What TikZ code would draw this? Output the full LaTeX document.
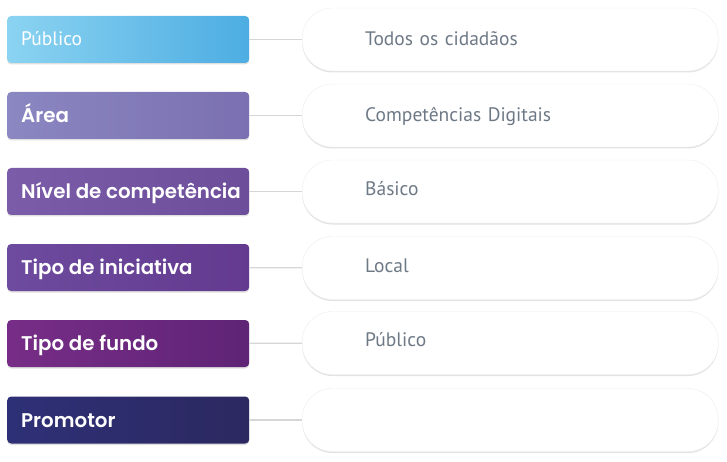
\documentclass[tikz,border=0pt]{standalone}
\usepackage{fontspec}
\newfontfamily\keyfont{Poppins}[BoldFont={Poppins SemiBold}]
\newfontfamily\valfont{PT Sans}
\usetikzlibrary{shadows}
\newcommand\keylabel[1]{\makebox[214pt][l]{#1}}
\definecolor{valgray}{HTML}{6E7986}
\definecolor{linkgray}{HTML}{D6D6D6}
\definecolor{pubL}{HTML}{8BD3F1}\definecolor{pubR}{HTML}{4DADE2}
\definecolor{areaL}{HTML}{8A87C1}\definecolor{areaR}{HTML}{7B70B1}
\definecolor{nivL}{HTML}{7A5CA8}\definecolor{nivR}{HTML}{6C4E9B}
\definecolor{iniL}{HTML}{6D4B9E}\definecolor{iniR}{HTML}{633A8F}
\definecolor{funL}{HTML}{772D87}\definecolor{funR}{HTML}{5F2476}
\definecolor{proL}{HTML}{2E3077}\definecolor{proR}{HTML}{2C2860}
\tikzset{
  keybox/.style={rectangle, rounded corners=4pt, anchor=west,
    minimum width=242pt, minimum height=47pt, inner xsep=14pt,
    text height=14.5pt, text depth=0pt,
    text=white, font=\keyfont\bfseries\fontsize{19.8}{22}\selectfont,
    drop shadow={opacity=.25, shadow xshift=0pt, shadow yshift=-1.5pt}},
  valbox/.style={rectangle, rounded corners=30pt, anchor=west,
    minimum width=416pt, minimum height=63pt, inner xsep=63pt,
    text width=290pt, align=left, text height=12pt, text depth=0pt,
    fill=white, draw=black!7, text=valgray,
    font=\valfont\fontsize{19.5}{22}\selectfont,
    drop shadow={opacity=.22, shadow xshift=0pt, shadow yshift=-1.5pt}},
  link/.style={draw=linkgray, line width=1.2pt}
}
\begin{document}
\begin{tikzpicture}[x=1pt, y=-1pt]
\useasboundingbox (0,0) rectangle (727,462);

\node[keybox, left color=pubL, right color=pubR, font=\valfont\fontsize{19.5}{22}\selectfont, text height=12pt] (k1) at (7,39.5) {\keylabel{Público}};
\node[keybox, left color=areaL, right color=areaR] (k2) at (7,115.5) {\keylabel{Área}};
\node[keybox, left color=nivL, right color=nivR] (k3) at (7,191.5) {\keylabel{Nível de competência}};
\node[keybox, left color=iniL, right color=iniR] (k4) at (7,267.5) {\keylabel{Tipo de iniciativa}};
\node[keybox, left color=funL, right color=funR] (k5) at (7,343.5) {\keylabel{Tipo de fundo}};
\node[keybox, left color=proL, right color=proR] (k6) at (7,420) {\keylabel{Promotor}};

\node[valbox] (v1) at (302,39.5) {Todos os cidadãos};
\node[valbox] (v2) at (302,115.5) {Competências Digitais};
\node[valbox, text depth=4pt] (v3) at (302,191.5) {Básico};
\node[valbox, text depth=4pt] (v4) at (302,268) {Local};
\node[valbox, text depth=6pt] (v5) at (302,343) {Público};
\node[valbox] (v6) at (302,420) {};

\draw[link] (k1) -- (v1);
\draw[link] (k2) -- (v2);
\draw[link] (k3) -- (v3);
\draw[link] (k4) -- (v4);
\draw[link] (k5) -- (v5);
\draw[link] (k6) -- (v6);
\end{tikzpicture}
\end{document}
